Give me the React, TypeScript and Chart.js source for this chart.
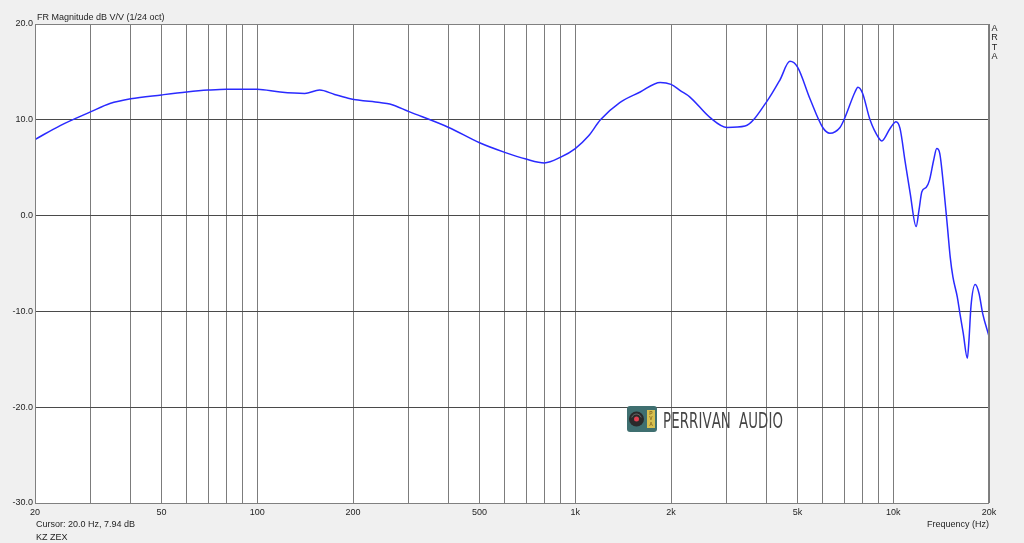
import React, { useEffect, useRef } from "react";
import { Chart, registerables } from "chart.js";

Chart.register(...registerables);

const freqs = [
  20, 24, 30, 34.4, 40, 50, 60, 70, 80, 100, 118, 141, 157, 175, 196, 243, 261,
  300, 400, 500, 600, 700, 800, 900, 1000, 1100, 1200, 1380, 1600, 1850, 2000,
  2150, 2290, 2650, 3000, 3420, 4000, 4400, 4730, 5000, 5470, 6000, 6320, 6800,
  7000, 7580, 7740, 8000, 8450, 9000, 9200, 9770, 10200, 10500, 10900, 11300,
  11800, 12050, 12300, 12700, 13000, 13400, 13700, 14000, 14400, 14800, 15100,
  15400, 15900, 16200, 16600, 17100, 17300, 17550, 18100, 18600, 19100, 20000,
];
const levels = [
  7.94, 9.4, 10.85, 11.7, 12.2, 12.6, 12.9, 13.1, 13.2, 13.2, 12.9, 12.75, 13.1,
  12.65, 12.2, 11.8, 11.65, 10.85, 9.2, 7.6, 6.6, 5.9, 5.5, 6.1, 7.0, 8.3, 10.0,
  11.8, 12.9, 13.9, 13.7, 13.0, 12.4, 10.25, 9.2, 9.35, 11.9, 14.15, 16.1, 15.5,
  12.2, 9.2, 8.6, 9.2, 10.0, 12.9, 13.4, 12.8, 10.0, 8.1, 7.8, 9.1, 9.8, 9.1,
  5.6, 2.35, -1.15, 0.6, 2.5, 2.95, 3.7, 5.8, 7.0, 6.5, 3.0, -1.15, -4.3, -6.4,
  -8.5, -10.2, -12.3, -14.9, -13.0, -9.5, -7.2, -8.1, -10.2, -12.6,
];
const gridFreqs = [
  20, 30, 40, 50, 60, 70, 80, 90, 100, 200, 300, 400, 500, 600, 700, 800, 900,
  1000, 2000, 3000, 4000, 5000, 6000, 7000, 8000, 9000, 10000, 20000,
];
const labeledFreqs = [20, 50, 100, 200, 500, 1000, 2000, 5000, 10000, 20000];
const xLabels = ["20", "50", "100", "200", "500", "1k", "2k", "5k", "10k", "20k"];
const yMin = -30;
const yMax = 20;
const yStep = 10;

const titleText = "FR Magnitude dB V/V (1/24 oct)";
const cursorText = "Cursor: 20.0 Hz, 7.94 dB";
const nameText = "KZ ZEX";
const xAxisText = "Frequency (Hz)";
const sideText = ["A", "R", "T", "A"];
const logoText = "PERRIVAN AUDIO";

const FONT = '"Liberation Sans", Arial, sans-serif';

const decorPlugin = {
  id: "decor",
  beforeDraw(chart: any) {
    const { ctx, chartArea: a } = chart;
    ctx.save();
    ctx.fillStyle = "#f0f0f0";
    ctx.fillRect(0, 0, chart.width, chart.height);
    ctx.fillStyle = "#ffffff";
    ctx.fillRect(a.left, a.top, a.right - a.left, a.bottom - a.top);
    ctx.restore();
  },
  beforeDatasetsDraw(chart: any) {
    const { ctx } = chart;
    ctx.save();
    const lx = 627, ly = 406, lw = 30, lh = 26;
    ctx.fillStyle = "#3f6f70";
    ctx.beginPath();
    (ctx as any).roundRect ? (ctx as any).roundRect(lx, ly, lw, lh, 3) : ctx.rect(lx, ly, lw, lh);
    ctx.fill();
    ctx.fillStyle = "#2a2a2a";
    ctx.beginPath();
    ctx.arc(636.5, 419, 7.5, 0, Math.PI * 2);
    ctx.fill();
    ctx.strokeStyle = "#777";
    ctx.lineWidth = 0.8;
    ctx.beginPath();
    ctx.arc(636.5, 419, 5, Math.PI * 1.1, Math.PI * 1.9);
    ctx.stroke();
    ctx.fillStyle = "#e04050";
    ctx.beginPath();
    ctx.arc(636.5, 419, 2.5, 0, Math.PI * 2);
    ctx.fill();
    ctx.fillStyle = "#d8c050";
    ctx.fillRect(647, 410, 8, 18);
    ctx.fillStyle = "#8a6a20";
    ctx.font = `bold 5px ${FONT}`;
    ctx.textAlign = "center";
    ctx.textBaseline = "middle";
    ["P", "V", "A"].forEach((c, i) => ctx.fillText(c, 651, 413.5 + i * 5.5));
    // logo text, spaced letters
    ctx.fillStyle = "#454545";
    ctx.font = `19px "DejaVu Sans Condensed", "DejaVu Sans", sans-serif`;
    ctx.textAlign = "left";
    ctx.textBaseline = "alphabetic";
    const chars = logoText.split("");
    const widths = chars.map((c) => (c === " " ? 0 : ctx.measureText(c).width * 0.78));
    const total = widths.reduce((s, w) => s + w, 0);
    const gapCount = chars.length - 1;
    const spaceExtra = 8;
    const gap = (120 - total - spaceExtra) / gapCount;
    let x = 663;
    ctx.translate(0, 427.5);
    chars.forEach((c, i) => {
      if (c !== " ") {
        ctx.save();
        ctx.translate(x, 0);
        ctx.scale(0.78, 15.5 / 13.9);
        ctx.fillText(c, 0, 0);
        ctx.restore();
      } else {
        x += spaceExtra;
      }
      x += widths[i] + gap;
    });
    ctx.restore();
  },
  afterDraw(chart: any) {
    const { ctx, chartArea: a } = chart;
    ctx.save();
    ctx.strokeStyle = "#808080";
    ctx.lineWidth = 1;
    ctx.strokeRect(a.left + 0.5, a.top + 0.5, a.right - a.left - 1, a.bottom - a.top);
    ctx.fillStyle = "#1e1e1e";
    ctx.font = `9px ${FONT}`;
    ctx.textBaseline = "alphabetic";
    ctx.textAlign = "left";
    ctx.fillText(titleText, 37, 20);
    ctx.fillText(cursorText, 36, 527);
    ctx.fillText(nameText, 36, 540);
    ctx.textAlign = "right";
    ctx.fillText(xAxisText, 989, 527);
    ctx.textAlign = "center";
    sideText.forEach((c, i) => ctx.fillText(c, 994.5, 31 + i * 9.3));
    ctx.restore();
  },
};

export default function App() {
  const ref = useRef<HTMLCanvasElement | null>(null);
  useEffect(() => {
    if (!ref.current) return;
    const chart = new Chart(ref.current, {
      type: "line",
      data: {
        datasets: [
          {
            data: freqs.map((f, i) => ({ x: f, y: levels[i] })),
            borderColor: "#2a2aff",
            borderWidth: 1.5,
            pointRadius: 0,
            cubicInterpolationMode: "monotone",
            fill: false,
          },
        ],
      },
      options: {
        responsive: false,
        animation: false,
        events: [],
        layout: { padding: { top: 24, right: 35, left: 0, bottom: 0 } },
        plugins: { legend: { display: false }, tooltip: { enabled: false }, title: { display: false } },
        scales: {
          x: {
            type: "logarithmic",
            min: 20,
            max: 20000,
            afterBuildTicks: (s: any) => {
              s.ticks = gridFreqs.map((v) => ({ value: v }));
            },
            afterFit: (s: any) => {
              s.height = 40;
            },
            ticks: {
              autoSkip: false,
              maxRotation: 0,
              minRotation: 0,
              padding: 4,
              color: "#1e1e1e",
              font: { size: 9, family: FONT },
              callback: (v: any) => {
                const i = labeledFreqs.indexOf(Number(v));
                return i >= 0 ? xLabels[i] : "";
              },
            },
            grid: { color: "#7c7c7c", lineWidth: 1, drawTicks: false },
            border: { display: false },
          },
          y: {
            type: "linear",
            min: yMin,
            max: yMax,
            afterFit: (s: any) => {
              s.width = 35;
            },
            ticks: {
              stepSize: yStep,
              padding: 2,
              color: "#1e1e1e",
              font: { size: 9, family: FONT },
              callback: (v: any) => Number(v).toFixed(1),
            },
            grid: { color: "#4a4a4a", lineWidth: 1, drawTicks: false },
            border: { display: false },
          },
        },
      },
      plugins: [decorPlugin],
    } as any);
    return () => chart.destroy();
  }, []);
  return (
    <div style={{ position: "fixed", left: 0, top: 0, width: 1024, height: 543, background: "#f0f0f0" }}>
      <canvas ref={ref} width={1024} height={543} style={{ display: "block" }} />
    </div>
  );
}
